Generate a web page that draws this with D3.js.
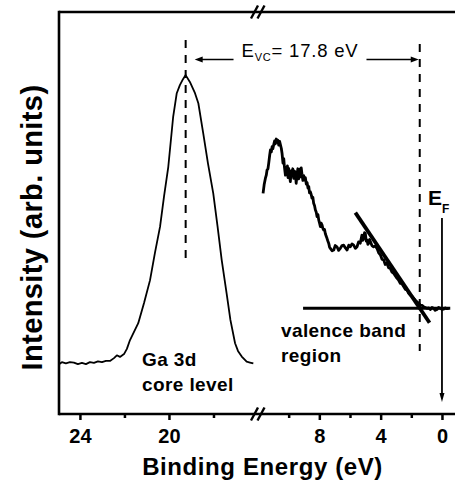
<!DOCTYPE html>
<html>
<head>
<meta charset="utf-8">
<script src="https://cdn.jsdelivr.net/npm/d3@7"></script>
<style>
  html, body { margin: 0; padding: 0; background: #fff; }
  svg { display: block; font-family: "Liberation Sans", Arial, Helvetica, sans-serif; }
</style>
</head>
<body>
<svg id="chart" width="455" height="485"></svg>
<script>
// Ga 3d core-level spectrum: binding energy (eV) and intensity (arb. units)
const coreEnergy = [24.94, 24.81, 24.63, 24.45, 24.27, 24.09, 23.91, 23.73, 23.55, 23.37,
  23.19, 23.01, 22.83, 22.65, 22.47, 22.34, 22.20, 22.02, 21.89, 21.75,
  21.38, 21.12, 20.85, 20.63, 20.40, 20.22, 20.03, 19.81, 19.65, 19.51,
  19.37, 19.25, 19.06, 18.83, 18.68, 18.46, 18.25, 18.01, 17.82, 17.63,
  17.41, 17.24, 17.03, 16.90, 16.73, 16.51, 16.36, 16.21];
const coreIntensity = [12.4, 12.9, 12.6, 12.9, 12.8, 12.4, 12.7, 12.4, 12.9, 12.7,
  13.1, 12.9, 13.2, 13.2, 13.9, 14.6, 14.2, 14.9, 16.2, 18.4,
  22.6, 27.6, 33.3, 40.1, 46.6, 54.2, 61.5, 74.0, 79.8, 81.8,
  83.3, 84.3, 82.6, 79.8, 77.3, 69.8, 62.4, 54.9, 46.8, 38.3,
  30.0, 23.4, 17.6, 15.7, 14.3, 13.0, 12.8, 12.6];

// Valence band spectrum near the Fermi level
const vbEnergy = [11.67, 11.60, 11.52, 11.46, 11.41, 11.35, 11.30, 11.24, 11.19, 11.13,
  11.08, 11.03, 10.98, 10.92, 10.87, 10.81, 10.76, 10.70, 10.65, 10.59,
  10.54, 10.48, 10.43, 10.37, 10.32, 10.28, 10.24, 10.21, 10.17, 10.13,
  10.08, 10.04, 10.00, 9.95, 9.89, 9.84, 9.78, 9.73, 9.67, 9.62,
  9.56, 9.51, 9.45, 9.40, 9.35, 9.29, 9.24, 9.18, 9.13, 9.07,
  9.02, 8.96, 8.91, 8.85, 8.80, 8.74, 8.69, 8.64, 8.59, 8.53,
  8.48, 8.42, 8.37, 8.31, 8.26, 8.20, 8.15, 8.09, 8.04, 7.98,
  7.93, 7.88, 7.82, 7.77, 7.72, 7.66, 7.61, 7.55, 7.50, 7.45,
  7.39, 7.33, 7.28, 7.17, 7.06, 6.96, 6.85, 6.74, 6.63, 6.52,
  6.41, 6.30, 6.19, 6.08, 5.98, 5.87, 5.76, 5.65, 5.54, 5.44,
  5.33, 5.27, 5.22, 5.16, 5.11, 5.05, 5.00, 4.94, 4.89, 4.83,
  4.78, 4.72, 4.67, 4.57, 4.46, 4.35, 4.24, 4.13, 4.02, 3.91,
  3.80, 3.70, 3.59, 3.48, 3.37, 3.26, 3.15, 3.05, 2.94, 2.83,
  2.72, 2.61, 2.50, 2.39, 2.28, 2.17, 2.07, 1.96, 1.85, 1.74,
  1.63, 1.52, 1.41, 1.30, 1.20, 1.09, 0.98, 0.87, 0.76, 0.65,
  0.55, 0.44, 0.33, 0.22, 0.11, 0.00, -0.11, -0.22, -0.32, -0.43];
const vbIntensity = [54.9, 57.0, 58.6, 59.4, 60.7, 61.0, 62.4, 64.3, 65.7, 65.2,
  66.5, 66.0, 66.9, 67.9, 67.2, 68.4, 67.6, 68.1, 66.9, 67.8,
  67.0, 66.1, 64.8, 62.4, 63.5, 61.6, 60.3, 59.4, 61.3, 60.0,
  61.7, 58.8, 61.1, 59.6, 57.8, 60.5, 59.2, 61.0, 58.6, 60.4,
  59.9, 57.4, 59.8, 61.0, 58.5, 60.9, 59.0, 61.2, 59.6, 58.1,
  59.3, 58.2, 58.8, 57.2, 57.6, 56.2, 56.6, 55.0, 55.3, 54.6,
  53.7, 53.9, 52.4, 51.8, 50.8, 50.2, 49.1, 49.6, 48.3, 47.4,
  46.6, 47.5, 47.0, 46.2, 45.8, 45.9, 44.9, 44.2, 43.7, 43.1,
  42.5, 41.5, 41.2, 40.6, 40.8, 41.9, 41.6, 40.7, 41.2, 41.9,
  42.0, 41.3, 40.8, 42.0, 41.6, 42.3, 42.0, 41.2, 41.6, 42.8,
  42.5, 43.6, 44.5, 43.2, 43.7, 45.1, 44.9, 43.0, 43.3, 42.2,
  42.5, 43.4, 42.9, 41.9, 41.6, 41.8, 41.2, 40.1, 39.6, 38.5,
  38.3, 37.2, 37.5, 36.4, 36.2, 35.3, 35.0, 34.4, 33.8, 33.3,
  32.5, 32.4, 31.7, 31.0, 30.9, 30.0, 29.6, 29.3, 28.8, 28.3,
  27.9, 27.6, 27.1, 27.0, 26.7, 26.5, 26.3, 26.4, 26.0, 26.5,
  26.3, 25.8, 26.0, 26.5, 26.3, 26.0, 26.1, 26.4, 26.2, 26.3];

// Linear extrapolation of the leading edge and the background level
const edgeFitEnergy = [5.65, 0.81];
const edgeFitIntensity = [50.1, 22.7];
const backgroundEnergy = [9.06, -0.54];
const backgroundIntensity = [26.3, 26.3];

// Core-level peak, valence band maximum and their separation
const corePeakEnergy = 19.25;
const vbmEnergy = 1.45;
const evcValue = 17.8;

// Axis ticks (broken axis: core-level segment and valence-band segment)
const leftTicks = [24, 22, 20, 18];
const rightTicks = [10, 8, 6, 4, 2, 0];
const labeledTicks = [24, 20, 8, 4, 0];

const svg = d3.select("#chart");
const W = 455, H = 485;
const plotLeft = 59, plotTop = 12, plotBottom = 414, breakX = 258;

const xL = d3.scaleLinear().domain([24.94, 16]).range([plotLeft, breakX]);
const xR = d3.scaleLinear().domain([12, -0.85]).range([breakX, W]);
const y = d3.scaleLinear().domain([0, 100]).range([plotBottom, plotTop]);

const core = coreEnergy.map((e, i) => [e, coreIntensity[i]]);
const vb = vbEnergy.map((e, i) => [e, vbIntensity[i]]);

// Frame: left, top and bottom lines
const frame = svg.append("g").attr("stroke", "#000").attr("stroke-width", 2.6).attr("fill", "none");
frame.append("line").attr("x1", plotLeft).attr("x2", plotLeft).attr("y1", plotTop - 1.3).attr("y2", plotBottom + 1.3);
frame.append("line").attr("x1", plotLeft).attr("x2", W).attr("y1", plotTop).attr("y2", plotTop);
frame.append("line").attr("x1", plotLeft).attr("x2", W).attr("y1", plotBottom).attr("y2", plotBottom);

// Axis break marks
[plotTop, plotBottom].forEach(yy => {
  const g = svg.append("g").attr("stroke", "#000").attr("stroke-width", 2.4);
  [-3.5, 3].forEach(off => {
    g.append("line")
      .attr("x1", breakX + off - 3.5).attr("y1", yy + 6.5)
      .attr("x2", breakX + off + 3.5).attr("y2", yy - 6.5);
  });
});

// Ticks and labels
function drawTicks(scale, values) {
  const majors = values.filter(v => labeledTicks.includes(v));
  const minors = values.filter(v => !labeledTicks.includes(v));
  const gMaj = svg.append("g").attr("transform", `translate(0,${plotBottom})`)
    .call(d3.axisBottom(scale).tickValues(majors).tickSize(6).tickPadding(8).tickFormat(d3.format("d")));
  const gMin = svg.append("g").attr("transform", `translate(0,${plotBottom})`)
    .call(d3.axisBottom(scale).tickValues(minors).tickSize(4).tickFormat(""));
  [gMaj, gMin].forEach(g => {
    g.select(".domain").remove();
    g.selectAll(".tick line").attr("stroke", "#000").attr("stroke-width", 2.5);
  });
  gMaj.selectAll(".tick text")
    .attr("fill", "#000").attr("font-size", 20).attr("font-weight", "bold")
    .attr("font-family", "'Liberation Sans', Arial, sans-serif")
    .attr("y", 14.5).attr("dy", "0.71em");
}
drawTicks(xL, leftTicks);
drawTicks(xR, rightTicks);

// Spectra
svg.append("path").datum(core)
  .attr("d", d3.line().x(d => xL(d[0])).y(d => y(d[1])))
  .attr("fill", "none").attr("stroke", "#000").attr("stroke-width", 1.8).attr("stroke-linejoin", "round");
svg.append("path").datum(vb)
  .attr("d", d3.line().x(d => xR(d[0])).y(d => y(d[1])))
  .attr("fill", "none").attr("stroke", "#000").attr("stroke-width", 2.8).attr("stroke-linejoin", "round");

// Background level and leading-edge fit
svg.append("line")
  .attr("x1", xR(backgroundEnergy[0])).attr("y1", y(backgroundIntensity[0]))
  .attr("x2", xR(backgroundEnergy[1])).attr("y2", y(backgroundIntensity[1]))
  .attr("stroke", "#000").attr("stroke-width", 3);
svg.append("line")
  .attr("x1", xR(edgeFitEnergy[0])).attr("y1", y(edgeFitIntensity[0]))
  .attr("x2", xR(edgeFitEnergy[1])).attr("y2", y(edgeFitIntensity[1]))
  .attr("stroke", "#000").attr("stroke-width", 3.8);

// Dashed markers at core peak and valence band maximum
svg.append("line")
  .attr("x1", xL(corePeakEnergy)).attr("x2", xL(corePeakEnergy))
  .attr("y1", 40).attr("y2", 261)
  .attr("stroke", "#000").attr("stroke-width", 2).attr("stroke-dasharray", "8,7");
svg.append("line")
  .attr("x1", xR(vbmEnergy)).attr("x2", xR(vbmEnergy))
  .attr("y1", 44).attr("y2", 351)
  .attr("stroke", "#000").attr("stroke-width", 2).attr("stroke-dasharray", "8,7");

// E_VC annotation with double arrow
const xa = xL(corePeakEnergy), xb = xR(vbmEnergy);
const arrowY = 59.5;
const evc = svg.append("text")
  .attr("x", 300).attr("y", 57)
  .attr("text-anchor", "middle")
  .attr("font-size", 18.5).attr("letter-spacing", "0.8px").attr("fill", "#000");
evc.append("tspan").text("E");
evc.append("tspan").attr("font-size", 11).attr("dy", 4).text("VC");
evc.append("tspan").attr("dy", -4).text("= " + evcValue.toFixed(1) + " eV");
const bb = evc.node().getBBox();

function hArrow(x1, x2) {
  // shaft from x1 to the arrow tip at x2
  const dir = Math.sign(x2 - x1);
  svg.append("line").attr("x1", x1).attr("x2", x2 - dir * 5).attr("y1", arrowY).attr("y2", arrowY)
    .attr("stroke", "#000").attr("stroke-width", 1.6);
  svg.append("path")
    .attr("d", `M${x2},${arrowY} L${x2 - dir * 8},${arrowY - 3} L${x2 - dir * 8},${arrowY + 3} Z`)
    .attr("fill", "#000");
}
hArrow(bb.x - 8, xa + 9);
hArrow(bb.x + bb.width + 8, xb - 1);

// Fermi level marker
const xF = xR(0);
const ef = svg.append("text").attr("x", 428).attr("y", 205)
  .attr("font-size", 21).attr("font-weight", "bold").attr("fill", "#000");
ef.append("tspan").text("E");
ef.append("tspan").attr("font-size", 12).attr("dy", 8).text("F");
svg.append("line").attr("x1", xF).attr("x2", xF).attr("y1", 218).attr("y2", 395)
  .attr("stroke", "#000").attr("stroke-width", 1.8);
svg.append("path")
  .attr("d", `M${xF},${402} L${xF - 2.5},${393} L${xF + 2.5},${393} Z`)
  .attr("fill", "#000");

// Region labels
function label(x, yy, lines) {
  lines.forEach((t, i) => {
    svg.append("text").attr("x", x).attr("y", yy + i * 24.5)
      .attr("font-size", 19).attr("font-weight", "bold").attr("letter-spacing", "0.4px")
      .attr("fill", "#000").text(t);
  });
}
label(142, 366, ["Ga 3d", "core level"]);
label(281, 337, ["valence band", "region"]);

// Axis titles
svg.append("text")
  .attr("x", 262.5).attr("y", 475).attr("text-anchor", "middle")
  .attr("font-size", 24).attr("font-weight", "bold").attr("letter-spacing", "0.6px")
  .attr("fill", "#000").text("Binding Energy (eV)");
svg.append("text")
  .attr("transform", "translate(41.5,227.5) rotate(-90)")
  .attr("text-anchor", "middle")
  .attr("font-size", 29).attr("font-weight", "bold").attr("letter-spacing", "0.4px")
  .attr("fill", "#000").text("Intensity (arb. units)");
</script>
</body>
</html>
